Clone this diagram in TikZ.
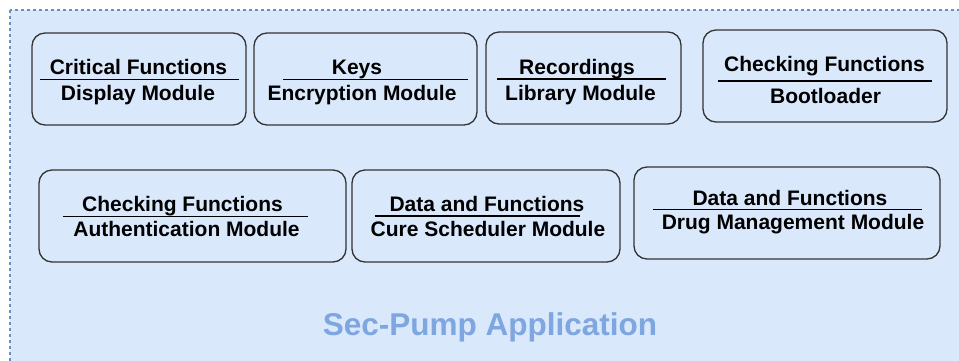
\documentclass[tikz,border=0pt]{standalone}
\usepackage{fontspec}
\setmainfont{Liberation Sans}
\definecolor{contfill}{HTML}{DAE8FC}
\definecolor{contline}{HTML}{6C8EBF}
\definecolor{titleblue}{HTML}{7EA6E0}
\definecolor{boxline}{HTML}{333333}
\begin{document}
\begin{tikzpicture}[x=1pt,y=-1pt,
  container/.style={draw=contline, fill=contfill, line width=1.3pt, dash pattern=on 3pt off 3pt},
  modbox/.style={draw=boxline, line width=1.3pt, rounded corners=13pt, rectangle, inner sep=0pt},
  modtext/.style={anchor=base, inner sep=0pt, font=\fontsize{21}{24}\selectfont\bfseries, text=black},
  divider/.style={draw=black, line width=1.4pt},
  apptitle/.style={anchor=base, inner sep=0pt, font=\fontsize{31.5}{36}\selectfont\bfseries, text=titleblue}]
\useasboundingbox (0,0) rectangle (959,360);
\clip (0,0) rectangle (959,360);
\draw[container] (10,10) rectangle (975,378);

% row 1
\node[modbox, minimum width=214pt, minimum height=92pt] (b1) at (139,79) {};
\node[modtext] (b1a) at (138.5,74) {Critical Functions};
\node[modtext] (b1b) at (138,100) {Display Module};
\coordinate (b1l) at (40,79.5); \coordinate (b1r) at (239,79.5);
\draw[divider] (b1l) -- (b1r);

\node[modbox, minimum width=223pt, minimum height=92pt] (b2) at (365.5,79) {};
\node[modtext] (b2a) at (357,74) {Keys};
\node[modtext] (b2b) at (362,100) {Encryption Module};
\coordinate (b2l) at (283,79.5); \coordinate (b2r) at (468,79.5);
\draw[divider] (b2l) -- (b2r);

\node[modbox, minimum width=195pt, minimum height=92pt] (b3) at (583.5,78) {};
\node[modtext] (b3a) at (577,74.5) {Recordings};
\node[modtext] (b3b) at (580.5,100) {Library Module};
\coordinate (b3l) at (497,79); \coordinate (b3r) at (666,79);
\draw[divider] (b3l) -- (b3r);

\node[modbox, minimum width=244pt, minimum height=92pt] (b4) at (825,76) {};
\node[modtext] (b4a) at (824.5,71) {Checking Functions};
\node[modtext] (b4b) at (825.5,103) {Bootloader};
\coordinate (b4l) at (718,81); \coordinate (b4r) at (932,81);
\draw[divider] (b4l) -- (b4r);

% row 2
\node[modbox, minimum width=307pt, minimum height=92pt] (b5) at (192.5,216) {};
\node[modtext] (b5a) at (182.5,211.5) {Checking Functions};
\node[modtext] (b5b) at (186.5,236.5) {Authentication Module};
\coordinate (b5l) at (63,216.5); \coordinate (b5r) at (308,216.5);
\draw[divider] (b5l) -- (b5r);

\node[modbox, minimum width=268pt, minimum height=92pt] (b6) at (486,216) {};
\node[modtext] (b6a) at (487,211.5) {Data and Functions};
\node[modtext] (b6b) at (488,236.5) {Cure Scheduler Module};
\coordinate (b6l) at (375,216); \coordinate (b6r) at (580,216);
\draw[divider] (b6l) -- (b6r);

\node[modbox, minimum width=306pt, minimum height=92pt] (b7) at (787,213) {};
\node[modtext] (b7a) at (790,205) {Data and Functions};
\node[modtext] (b7b) at (793,229) {Drug Management Module};
\coordinate (b7l) at (653,209); \coordinate (b7r) at (922,209);
\draw[divider,line width=1pt] (b7l) -- (b7r);

\node[apptitle] (title) at (490,335) {Sec-Pump Application};
\end{tikzpicture}
\end{document}
